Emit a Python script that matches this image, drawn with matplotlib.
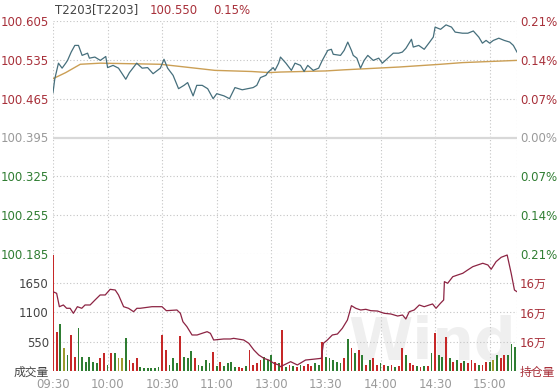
import matplotlib
matplotlib.use('Agg')
import matplotlib.pyplot as plt

plt.rcParams['font.family'] = ['DejaVu Sans', 'Noto Sans CJK SC']

# ---------------- data ----------------
title_code = 'T2203[T2203]'
last_price = '100.550'
last_pct = '0.15%'
base_price = 100.395

time_ticks = [0, 30, 60, 90, 120, 150, 180, 210, 240]
time_labels = ['09:30', '10:00', '10:30', '11:00', '13:00', '13:30', '14:00', '14:30', '15:00']
total_minutes = 255

price_t = [0, 1, 3, 5, 7, 8, 10, 12, 14, 16, 19, 20, 23, 26, 29, 30, 33, 36, 40, 42,
           46, 49, 52, 55, 59, 61, 63, 66, 69, 72, 74, 77, 79, 82, 85, 88, 90, 94, 97, 100,
           104, 107, 110, 112, 114, 117, 118, 121, 122, 124, 125, 128, 131, 133, 136, 138, 140, 143, 146, 148,
           151, 153, 154, 158, 160, 162, 164, 165, 167, 169, 171, 173, 176, 179, 181, 184, 187, 190, 192, 194,
           197, 198, 201, 204, 207, 209, 210, 213, 216, 219, 221, 225, 228, 231, 234, 236, 238, 240, 242, 245,
           248, 251, 253, 255]
price_v = [100.476, 100.501, 100.529, 100.520, 100.529, 100.534, 100.549, 100.561, 100.561, 100.543,
           100.547, 100.538, 100.540, 100.534, 100.541, 100.521, 100.525, 100.520, 100.500, 100.512,
           100.529, 100.520, 100.521, 100.510, 100.520, 100.536, 100.520, 100.507, 100.483, 100.489,
           100.494, 100.470, 100.489, 100.489, 100.483, 100.465, 100.474, 100.470, 100.465, 100.485,
           100.481, 100.483, 100.485, 100.489, 100.503, 100.507, 100.512, 100.521, 100.516, 100.529,
           100.540, 100.529, 100.516, 100.529, 100.525, 100.514, 100.525, 100.516, 100.520, 100.534,
           100.552, 100.554, 100.545, 100.543, 100.552, 100.567, 100.552, 100.543, 100.538, 100.520,
           100.534, 100.543, 100.534, 100.538, 100.529, 100.538, 100.547, 100.547, 100.549, 100.556,
           100.572, 100.558, 100.561, 100.554, 100.567, 100.576, 100.594, 100.590, 100.598, 100.594,
           100.585, 100.583, 100.583, 100.587, 100.576, 100.565, 100.570, 100.565, 100.570, 100.574,
           100.570, 100.567, 100.561, 100.549]

avg_t = [0, 7, 15, 26, 59, 70, 89, 109, 119, 125, 150, 160, 190, 213, 225, 255]
avg_v = [100.501, 100.512, 100.527, 100.529, 100.527, 100.523, 100.516, 100.514, 100.512,
         100.513, 100.515, 100.517, 100.522, 100.527, 100.530, 100.534]

# volume, one bar per two minutes
volume = [2177, 730, 880, 430, 300, 680, 270, 800, 270, 170,
          270, 170, 150, 240, 340, 110, 340, 340, 240, 240,
          620, 200, 150, 240, 80, 60, 50, 60, 50, 80,
          680, 390, 110, 240, 150, 660, 260, 240, 380, 240,
          110, 90, 200, 150, 360, 90, 170, 90, 150, 170,
          80, 70, 60, 90, 390, 110, 150, 200, 270, 200,
          300, 170, 150, 770, 80, 120, 100, 80, 120, 100,
          130, 100, 150, 120, 550, 270, 240, 200, 170, 150,
          240, 600, 430, 340, 390, 300, 110, 200, 240, 110,
          150, 110, 90, 120, 80, 100, 430, 300, 150, 110,
          90, 80, 100, 90, 340, 710, 300, 270, 640, 240,
          170, 200, 150, 180, 150, 200, 150, 110, 110, 170,
          170, 200, 300, 240, 300, 300, 500, 450]
volume_dir = ('rrgygrrgggggg' 'rrgrgyygrrrgggggg' 'rrgggrgggrggg' 'grgrggg' 'grrgrrrrgggrgrgrgr'
              'grrrggrgggggrgrgrgrgrrgrgrgrrgrrgrgrgrggrgrgrgrrrg')

oi_t = [0, 2, 3.5, 5.7, 7.5, 9.4, 11.2, 13.4, 15.8, 17.6, 20.4, 23.1, 25.9, 28.7, 31.4, 34.2, 36, 38.8, 41.5, 44.3,
        46.1, 47.9, 54.4, 57.1, 59.9, 62.3, 68.1, 70, 71.4, 73.6, 76.4, 79.2, 81.9, 84.7, 86.5, 88.3, 93.8, 97.5, 99.3, 104.8,
        107.6, 110.4, 113.1, 115.9, 118.6, 121.4, 124.1, 125, 130.6, 134.3, 138.8, 142.5, 147.5, 148.6, 150.8, 153.5, 156.3, 159, 161.8, 164,
        166.4, 169.1, 171.9, 174.7, 178.3, 182, 185.7, 189.4, 192.1, 193.9, 195.8, 198.5, 201.3, 204, 206.8, 208.6, 210.5, 212.9, 214.7, 215.1,
        216.9, 219.7, 222.4, 225.2, 227.9, 230.7, 233.4, 236.2, 239, 240.8, 243.5, 246.3, 249.6, 251.8, 253.6, 255]
oi_v = [161188, 161158, 160907, 160939, 160877, 160877, 160783, 160907, 160877, 160939,
        160939, 161033, 161127, 161127, 161233, 161220, 161127, 160907, 160877, 160813,
        160877, 160877, 160907, 160907, 160907, 160832, 160845, 160783, 160625, 160532,
        160376, 160376, 160407, 160438, 160407, 160282, 160301, 160301, 160313, 160282,
        160220, 160094, 160000, 159938, 159906, 159844, 159813, 159781, 159875, 159813,
        159906, 159919, 159938, 160220, 160282, 160376, 160394, 160501, 160657, 160926,
        160877, 160845, 160858, 160832, 160826, 160783, 160770, 160732, 160751, 160676,
        160813, 160845, 160939, 160907, 160939, 160958, 160877, 160970, 161033, 161377,
        161346, 161470, 161502, 161534, 161596, 161658, 161690, 161722, 161690, 161609,
        161752, 161834, 161877, 161534, 161220, 161188]

price_ticks = [100.185, 100.255, 100.325, 100.395, 100.465, 100.535, 100.605]
vol_ticks = [0, 550, 1100, 1650]
vol_top = 2196
oi_bottom = 159700

# ---------------- style ----------------
C_RED = '#a8303a'
C_GREEN = '#2f7d32'
C_GRAY = '#9a9a9a'
C_DARK = '#444444'
C_GRID = '#c4c4c4'
FS = 8.5

W, H = 558, 391
fig = plt.figure(figsize=(W / 100, H / 100), dpi=100)
L, R = 53, 517


def box(top, bottom):
    return [L / W, 1 - bottom / H, (R - L) / W, (bottom - top) / H]


fig.text(348 / W, 1 - 372 / H, 'Wind', fontsize=42, fontweight='bold',
         color='#efefef', zorder=-1, family='DejaVu Sans', va='bottom')

axp = fig.add_axes(box(21, 254))
axv = fig.add_axes(box(254, 371), sharex=axp)
for ax in (axp, axv):
    ax.set_facecolor('none')
    for s in ax.spines.values():
        s.set_visible(False)
    ax.tick_params(length=0, labelsize=FS)
    for t in time_ticks + [total_minutes]:
        ax.axvline(t, color=C_GRID, lw=0.8, ls=(0, (1, 2)), zorder=0)

axp.set_xlim(0, total_minutes)
axp.set_ylim(price_ticks[0], price_ticks[-1])
for p in price_ticks:
    if abs(p - base_price) < 1e-9:
        axp.axhline(p, color='#d8d8d8', lw=1.6, zorder=0)
    else:
        axp.axhline(p, color=C_GRID, lw=0.8, ls=(0, (1, 2)), zorder=0)

axp.plot(avg_t, avg_v, color='#cb9f55', lw=1.0, zorder=2)
axp.plot(price_t, price_v, color='#466f7c', lw=0.9, zorder=3)


def pcol(p):
    if abs(p - base_price) < 1e-9:
        return C_GRAY
    return C_RED if p > base_price else C_GREEN


axp.set_yticks(price_ticks)
axp.set_yticklabels([f'{p:.3f}' for p in price_ticks])
axp.tick_params(axis='y', pad=3)
for lab, p in zip(axp.get_yticklabels(), price_ticks):
    lab.set_color(pcol(p))
axp.tick_params(axis='x', labelbottom=False)

axp2 = axp.twinx()
axp2.set_ylim(axp.get_ylim())
for s in axp2.spines.values():
    s.set_visible(False)
axp2.set_yticks(price_ticks)
axp2.set_yticklabels([f'{abs(p - base_price) / base_price * 100:.2f}%' for p in price_ticks])
axp2.tick_params(length=0, labelsize=FS, pad=2)
for lab, p in zip(axp2.get_yticklabels(), price_ticks):
    lab.set_color(pcol(p))

# volume
axv.set_ylim(0, vol_top)
for v in vol_ticks[1:]:
    axv.axhline(v, color=C_GRID, lw=0.8, ls=(0, (1, 2)), zorder=0)
cmap = {'r': '#c62828', 'g': '#2e7d32', 'y': '#9e9a2e'}
vol_x = [2 * i for i in range(len(volume))]
axv.bar(vol_x, volume, width=1.0, color=[cmap[c] for c in volume_dir], zorder=2, linewidth=0)
axv.set_yticks(vol_ticks)
axv.set_yticklabels(['成交量'] + [str(v) for v in vol_ticks[1:]])
axv.tick_params(axis='y', pad=3)
for lab in axv.get_yticklabels():
    lab.set_color(C_DARK)
axv.set_xticks(time_ticks)
axv.set_xticklabels(time_labels)
axv.tick_params(axis='x', colors=C_GRAY, pad=5)

axo = axv.twinx()
axo.set_ylim(oi_bottom, oi_bottom + vol_top)
for s in axo.spines.values():
    s.set_visible(False)
oi_ticks = [oi_bottom + v for v in vol_ticks]
axo.plot(oi_t, oi_v, color='#8c2443', lw=0.9, zorder=3)
axo.set_yticks(oi_ticks)
axo.set_yticklabels(['持仓量'] + [f'{v / 1e4:.0f}万' for v in oi_ticks[1:]])
axo.tick_params(length=0, labelsize=FS, pad=2)
for lab in axo.get_yticklabels():
    lab.set_color(C_RED)

# title
fig.text(55 / W, 1 - 10 / H, title_code, color=C_DARK, fontsize=FS, va='center', ha='left')
fig.text(150 / W, 1 - 10 / H, last_price, color=C_RED, fontsize=FS, va='center', ha='left')
fig.text(213 / W, 1 - 10 / H, last_pct, color=C_RED, fontsize=FS, va='center', ha='left')

fig.savefig('out.png', dpi=100)
